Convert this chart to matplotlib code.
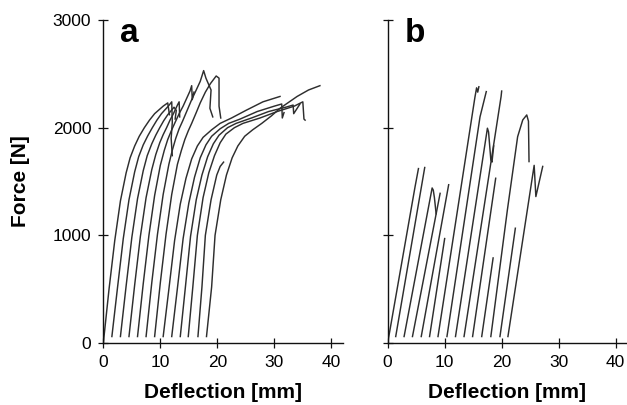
import matplotlib
matplotlib.use("Agg")
import matplotlib.pyplot as plt

plt.rcParams['font.family'] = ['Liberation Sans', 'DejaVu Sans']

# Panel a: deflection [mm] and force [N] for each load-deflection curve
defl_a = [
    [0, 1, 2, 3, 4, 4.7, 5.5, 6.3, 7.2, 8.1, 9, 10.5, 11.3, 11.6],
    [1.5, 2.5, 3.5, 4.5, 5.5, 6.2, 7.0, 7.8, 8.6, 9.4, 10.2, 11.4, 12.0, 12.1, 11.9, 12.1],
    [3.0, 4.0, 5.0, 6.0, 7.0, 7.7, 8.5, 9.2, 9.9, 10.6, 11.3, 12.4, 12.8, 12.6],
    [4.5, 5.5, 6.5, 7.5, 8.5, 9.2, 9.9, 10.5, 11.1, 11.7, 12.3, 13.0, 13.3, 13.4],
    [6.0, 7.0, 8.0, 9.0, 10.0, 10.7, 11.3, 12.0, 12.6, 13.3, 14.0, 14.6, 15.2, 15.5, 15.6, 15.9],
    [7.5, 8.5, 9.5, 10.5, 11.5, 12.1, 12.7, 13.3, 13.9, 14.7, 15.5, 16.3, 17.0, 17.6, 18.0,
     18.9, 18.7, 19.2],
    [9.0, 10.0, 11.0, 12.0, 13.0, 13.7, 14.3, 14.9, 15.5, 16.3, 17.0, 17.9, 18.8, 19.8, 20.3,
     20.3, 20.6],
    [10.5, 11.5, 12.5, 13.5, 14.5, 15.5, 16.5, 17.5, 19, 20.5, 22.5, 25, 28, 31],
    [12, 13, 14, 15, 16, 17, 18, 19, 20.5, 22, 24, 27, 30, 31.3, 31.4, 31.7],
    [13.5, 14.4, 15.3, 16.3, 17.3, 18.3, 19.3, 20.3, 21.8, 23.3, 26, 29, 32, 33.3, 33.4, 34.5],
    [14.9, 15.7, 16.5, 17.5, 18.5, 19.5, 20.5, 21.5, 23, 24.5, 27.5, 30.5, 33.5, 35.0, 35.2, 35.4],
    [16.6, 17.3, 17.9, 18.9, 19.9, 20.5, 21.1],
    [18.1, 19.0, 19.6, 20.6, 21.6, 22.6, 23.6, 24.8, 26.2, 27.8, 29.5, 31, 34, 36, 38],
]
force_a = [
    [0, 500, 950, 1320, 1580, 1720, 1830, 1920, 2000, 2070, 2130, 2200, 2230, 2120],
    [60, 520, 970, 1330, 1590, 1730, 1840, 1925, 2000, 2070, 2130, 2200, 2240, 2050, 1900, 1740],
    [60, 530, 980, 1340, 1600, 1740, 1850, 1930, 2000, 2065, 2120, 2190, 2160, 2080],
    [60, 540, 990, 1350, 1610, 1750, 1860, 1935, 2000, 2070, 2130, 2210, 2240, 2100],
    [60, 550, 1000, 1370, 1650, 1790, 1890, 1980, 2050, 2130, 2200, 2270, 2340, 2390, 2260, 2330],
    [60, 560, 1010, 1380, 1660, 1790, 1900, 1990, 2060, 2160, 2260, 2350, 2430, 2530, 2460,
     2350, 2180, 2100],
    [60, 560, 1010, 1380, 1660, 1790, 1890, 1970, 2040, 2140, 2230, 2330, 2410, 2480, 2460,
     2200, 2090],
    [60, 500, 950, 1290, 1530, 1710, 1830, 1910, 1980, 2040, 2090, 2160, 2240, 2290],
    [60, 510, 970, 1300, 1540, 1720, 1840, 1920, 1990, 2040, 2080, 2150, 2200, 2220, 2090, 2140],
    [60, 520, 990, 1330, 1560, 1730, 1850, 1930, 2000, 2040, 2090, 2150, 2190, 2210, 2130, 2220],
    [60, 520, 1000, 1350, 1580, 1740, 1860, 1940, 2000, 2040, 2090, 2150, 2200, 2240, 2080, 2070],
    [60, 520, 1000, 1330, 1560, 1640, 1680],
    [60, 520, 1000, 1330, 1560, 1720, 1830, 1920, 1980, 2040, 2110, 2180, 2290, 2350, 2390],
]

# Panel b
defl_b = [
    [0, 4.8, 5.4],
    [1.41, 6.5],
    [2.88, 7.8, 8.0, 8.2, 8.5],
    [4.35, 9.2],
    [5.89, 10.7],
    [7.35, 10.0],
    [8.83, 15.3, 15.6, 15.8, 16.0],
    [10.4, 16.2, 17.3],
    [11.9, 17.5, 17.7, 18.1, 18.3, 18.6],
    [13.4, 19.9, 20.0],
    [14.9, 18.95],
    [16.5, 18.5],
    [18.1, 21.0, 22.8, 23.7, 24.4, 24.7, 24.8],
    [19.7, 22.4],
    [21.1, 25.7, 26.0, 27.2],
]
force_b = [
    [0, 1450, 1620],
    [60, 1630],
    [60, 1440, 1420, 1350, 1200],
    [60, 1390],
    [60, 1470],
    [60, 970],
    [60, 2280, 2370, 2330, 2380],
    [60, 2100, 2335],
    [60, 1995, 1960, 1700, 1680, 1830],
    [60, 2290, 2340],
    [60, 1530],
    [60, 790],
    [60, 1235, 1916, 2072, 2118, 2060, 1685],
    [60, 1066],
    [60, 1650, 1360, 1640],
]

x_ticks = [0, 10, 20, 30, 40]
y_ticks = [0, 1000, 2000, 3000]

fig = plt.figure(figsize=(6.27, 4.05), dpi=100)
ax_a = fig.add_axes([0.1648, 0.1531, 0.3818, 0.7975])
ax_b = fig.add_axes([0.6183, 0.1531, 0.3818, 0.7975])

for ax, xs, fs, letter in [(ax_a, defl_a, force_a, 'a'), (ax_b, defl_b, force_b, 'b')]:
    for x, f in zip(xs, fs):
        ax.plot(x, f, color='#2e2e2e', lw=1.05, solid_joinstyle='round')
    ax.set_xlim(0, 42)
    ax.set_ylim(0, 3000)
    ax.set_xticks(x_ticks)
    ax.set_yticks(y_ticks)
    for side in ['top', 'right']:
        ax.spines[side].set_visible(False)
    for side in ['left', 'bottom']:
        ax.spines[side].set_linewidth(1.0)
        ax.spines[side].set_color('#111111')
    ax.tick_params(direction='inout', length=6.5, width=0.9, labelsize=12.5,
                   pad=5.5, color='#111111')
    ax.set_xlabel('Deflection [mm]', fontsize=15, fontweight='bold', labelpad=9)
    ax.text(0.07, 0.932, letter, transform=ax.transAxes, fontsize=24,
            fontweight='bold', ha='left', va='baseline')

ax_a.set_ylabel('Force [N]', fontsize=15, fontweight='bold', labelpad=16)
ax_b.set_yticklabels([])

fig.savefig('out.png', dpi=100)
